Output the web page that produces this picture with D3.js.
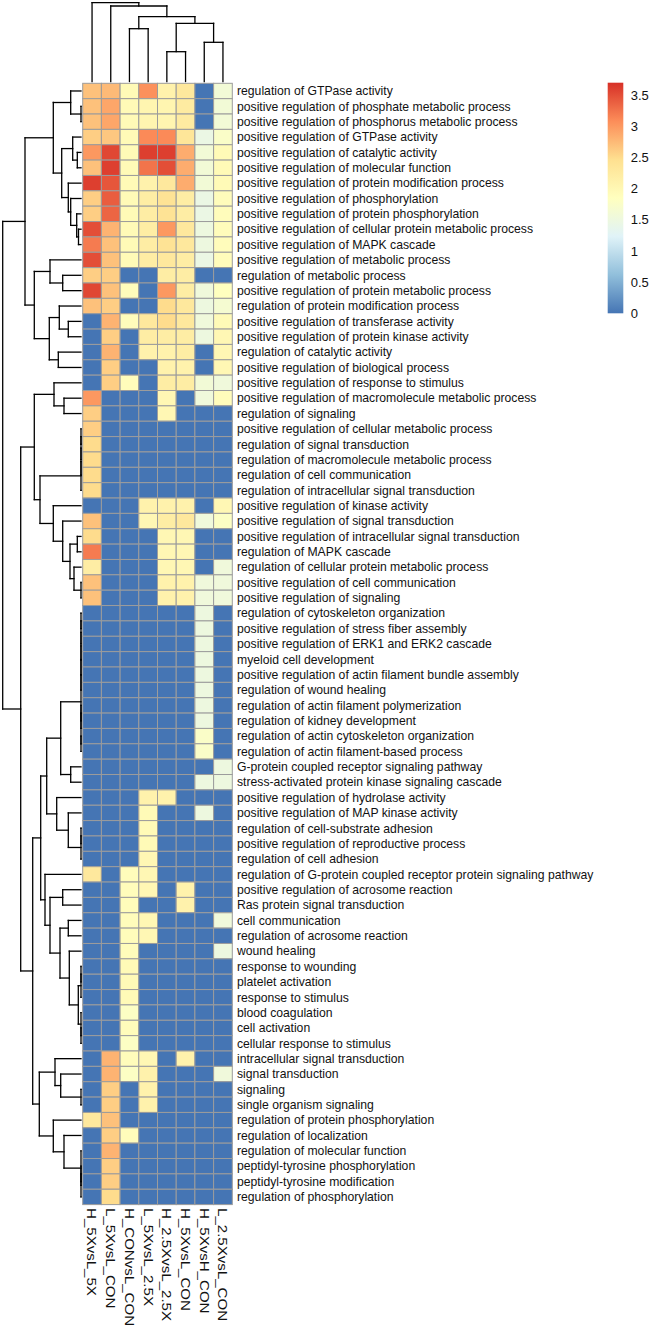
<!DOCTYPE html>
<html>
<head>
<meta charset="utf-8">
<script src="https://cdn.jsdelivr.net/npm/d3@7"></script>
<style>
  body { margin: 0; background: #fff; }
  svg { display: block; }
  text { font-family: "Liberation Sans", Arial, sans-serif; fill: #111; }
</style>
</head>
<body>
<div id="chart"></div>
<script>
// chart size = window size
const width = 654;
const height = 1331;

const colLabels = ["H_5XvsL_5X", "L_5XvsL_CON", "H_CONvsL_CON", "L_5XvsL_2.5X",
  "H_2.5XvsL_2.5X", "H_5XvsL_CON", "H_5XvsH_CON", "L_2.5XvsL_CON"];

const rowLabels = [
  "regulation of GTPase activity",
  "positive regulation of phosphate metabolic process",
  "positive regulation of phosphorus metabolic process",
  "positive regulation of GTPase activity",
  "positive regulation of catalytic activity",
  "positive regulation of molecular function",
  "positive regulation of protein modification process",
  "positive regulation of phosphorylation",
  "positive regulation of protein phosphorylation",
  "positive regulation of cellular protein metabolic process",
  "positive regulation of MAPK cascade",
  "positive regulation of metabolic process",
  "regulation of metabolic process",
  "positive regulation of protein metabolic process",
  "regulation of protein modification process",
  "positive regulation of transferase activity",
  "positive regulation of protein kinase activity",
  "regulation of catalytic activity",
  "positive regulation of biological process",
  "positive regulation of response to stimulus",
  "positive regulation of macromolecule metabolic process",
  "regulation of signaling",
  "positive regulation of cellular metabolic process",
  "regulation of signal transduction",
  "regulation of macromolecule metabolic process",
  "regulation of cell communication",
  "regulation of intracellular signal transduction",
  "positive regulation of kinase activity",
  "positive regulation of signal transduction",
  "positive regulation of intracellular signal transduction",
  "regulation of MAPK cascade",
  "regulation of cellular protein metabolic process",
  "positive regulation of cell communication",
  "positive regulation of signaling",
  "regulation of cytoskeleton organization",
  "positive regulation of stress fiber assembly",
  "positive regulation of ERK1 and ERK2 cascade",
  "myeloid cell development",
  "positive regulation of actin filament bundle assembly",
  "regulation of wound healing",
  "regulation of actin filament polymerization",
  "regulation of kidney development",
  "regulation of actin cytoskeleton organization",
  "regulation of actin filament-based process",
  "G-protein coupled receptor signaling pathway",
  "stress-activated protein kinase signaling cascade",
  "positive regulation of hydrolase activity",
  "positive regulation of MAP kinase activity",
  "regulation of cell-substrate adhesion",
  "positive regulation of reproductive process",
  "regulation of cell adhesion",
  "regulation of G-protein coupled receptor protein signaling pathway",
  "positive regulation of acrosome reaction",
  "Ras protein signal transduction",
  "cell communication",
  "regulation of acrosome reaction",
  "wound healing",
  "response to wounding",
  "platelet activation",
  "response to stimulus",
  "blood coagulation",
  "cell activation",
  "cellular response to stimulus",
  "intracellular signal transduction",
  "signal transduction",
  "signaling",
  "single organism signaling",
  "regulation of protein phosphorylation",
  "regulation of localization",
  "regulation of molecular function",
  "peptidyl-tyrosine phosphorylation",
  "peptidyl-tyrosine modification",
  "regulation of phosphorylation"
];

// one row per term, one value per column
const values = [
  [2.7, 2.75, 1.95, 3.05, 2.1, 2.3, 0, 1.6],
  [2.7, 2.9, 1.95, 2.05, 2.05, 2.25, 0, 1.6],
  [2.7, 2.9, 1.95, 2.05, 2.05, 2.25, 0, 1.6],
  [2.6, 2.65, 1.95, 3.1, 3.1, 2.35, 1.45, 1.75],
  [3.0, 3.55, 1.95, 3.6, 3.6, 2.85, 1.6, 1.95],
  [2.7, 3.6, 1.95, 3.25, 3.5, 2.85, 1.6, 1.95],
  [3.6, 3.45, 1.95, 2.1, 2.3, 2.85, 1.6, 1.95],
  [2.6, 3.4, 1.95, 2.2, 2.4, 2.2, 1.45, 1.9],
  [2.6, 3.35, 1.95, 2.2, 2.4, 2.2, 1.45, 1.9],
  [3.5, 2.8, 1.95, 2.2, 3.0, 2.3, 1.5, 1.9],
  [3.2, 2.7, 1.95, 2.2, 2.4, 2.3, 1.5, 1.9],
  [3.5, 2.7, 1.95, 2.2, 2.3, 2.2, 1.45, 1.9],
  [2.6, 2.6, 0, 0, 2.2, 2.2, 0, 0],
  [3.55, 2.7, 1.9, 0, 3.0, 2.2, 1.55, 1.85],
  [2.7, 2.6, 0, 0, 2.5, 2.3, 1.5, 1.65],
  [0, 2.8, 1.9, 2.3, 2.5, 2.3, 1.55, 1.95],
  [0, 2.6, 0, 2.2, 2.2, 2.2, 1.5, 2.0],
  [0, 2.8, 0, 2.1, 2.1, 2.2, 0, 2.0],
  [0, 2.6, 0, 0, 2.1, 2.1, 0, 2.0],
  [0, 2.6, 1.9, 0, 2.2, 2.2, 1.6, 1.55],
  [3.0, 0, 0, 0, 2.0, 0, 1.55, 1.9],
  [2.6, 0, 0, 0, 2.0, 0, 0, 0],
  [2.6, 0, 0, 0, 0, 0, 0, 0],
  [2.5, 0, 0, 0, 0, 0, 0, 0],
  [2.5, 0, 0, 0, 0, 0, 0, 0],
  [2.5, 0, 0, 0, 0, 0, 0, 0],
  [2.5, 0, 0, 0, 0, 0, 0, 0],
  [0, 0, 0, 2.1, 2.1, 2.1, 0, 2.0],
  [2.7, 0, 0, 2.0, 2.2, 2.3, 1.55, 1.8],
  [2.5, 0, 0, 0, 2.0, 2.0, 0, 0],
  [3.2, 0, 0, 0, 2.0, 2.0, 0, 0],
  [2.2, 0, 0, 0, 2.0, 2.0, 0, 1.55],
  [2.7, 0, 0, 0, 2.1, 2.1, 1.55, 1.55],
  [2.7, 0, 0, 0, 2.1, 2.1, 1.55, 1.55],
  [0, 0, 0, 0, 0, 0, 1.5, 0],
  [0, 0, 0, 0, 0, 0, 1.5, 0],
  [0, 0, 0, 0, 0, 0, 1.5, 0],
  [0, 0, 0, 0, 0, 0, 1.5, 0],
  [0, 0, 0, 0, 0, 0, 1.5, 0],
  [0, 0, 0, 0, 0, 0, 1.5, 0],
  [0, 0, 0, 0, 0, 0, 1.5, 0],
  [0, 0, 0, 0, 0, 0, 1.5, 0],
  [0, 0, 0, 0, 0, 0, 1.75, 0],
  [0, 0, 0, 0, 0, 0, 1.75, 0],
  [0, 0, 0, 0, 0, 0, 0, 1.5],
  [0, 0, 0, 0, 0, 0, 1.5, 1.5],
  [0, 0, 0, 2.1, 2.1, 0, 0, 0],
  [0, 0, 0, 1.95, 0, 0, 1.5, 0],
  [0, 0, 0, 1.95, 0, 0, 0, 0],
  [0, 0, 0, 1.95, 0, 0, 0, 0],
  [0, 0, 0, 2.0, 0, 0, 0, 0],
  [2.3, 0, 1.9, 2.0, 0, 0, 0, 0],
  [0, 0, 1.9, 2.0, 0, 2.1, 0, 0],
  [0, 0, 1.9, 0, 0, 2.1, 0, 0],
  [0, 0, 1.9, 2.0, 0, 0, 0, 1.55],
  [0, 0, 1.9, 2.0, 0, 0, 0, 0],
  [0, 0, 1.9, 0, 0, 0, 0, 1.5],
  [0, 0, 1.95, 0, 0, 0, 0, 0],
  [0, 0, 1.95, 0, 0, 0, 0, 0],
  [0, 0, 1.95, 0, 0, 0, 0, 0],
  [0, 0, 1.8, 0, 0, 0, 0, 0],
  [0, 0, 1.9, 0, 0, 0, 0, 0],
  [0, 0, 1.8, 0, 0, 0, 0, 0],
  [0, 2.8, 1.9, 2.0, 0, 2.1, 0, 0],
  [0, 2.8, 1.8, 2.1, 0, 0, 0, 1.55],
  [0, 2.6, 0, 2.1, 0, 0, 0, 0],
  [0, 2.6, 0, 2.1, 0, 0, 0, 0],
  [2.3, 2.7, 0, 0, 0, 0, 0, 0],
  [0, 2.6, 1.9, 0, 0, 0, 0, 0],
  [0, 2.8, 0, 0, 0, 0, 0, 0],
  [0, 2.6, 0, 0, 0, 0, 0, 0],
  [0, 2.6, 0, 0, 0, 0, 0, 0],
  [0, 2.5, 0, 0, 0, 0, 0, 0]
];

// dendrograms: leaf = row/column number (1-based), node = [left, right, merge height]
const treeA = [1, [2, 3, 0], 10.3];
const treeC = [[4, [5, 6, 3.7], 8.3], [7, [8, [9, [10, 11, 2.5], 4.3], 10.3], 12.7], 19.3];
const treeF = [[12, [13, 14, 18.3], 31], [[15, [16, 17, 12.7], 21.7], [18, 19, 22.7], 31.7], 46.7];
const treeL = [[20, [21, 22, 17], 27],
  [[[[[23, 24, 0], 25, 0], 26, 0], 27, 0],
   [28, [29, [[30, 31, 3.7], [32, [33, 34, 0], 7], 11], 18.3], 27.7], 41], 46.7];
const block35 = [[[[[[35, 36, 0], 37, 0], 38, 0], 39, 0], 40, 0], [[41, 42, 0], [43, 44, 0], 0], 0];
const treeQ = [[block35, [45, 46, 10.3], 20.3], [47, [48, [[49, 50, 0], 51, 0], 12.7], 24.3], 34.3];
const treeR = [52, [[53, 54, 18.3], [[55, 56, 12.7], [57, [[[58, 59, 0], 60, 0], [61, [62, 63, 0], 0], 2.7], 11.7], 21], 31], 36];
const treeM2 = [[64, [65, [66, 67, 0], 20.3], 26], [68, [69, [70, [[71, 72, 0], 73, 0], 0], 17], 27.7], 41.7];
const rowTree = [
  [[treeA, treeC, 27.7], treeF, 56],
  [treeL, [[treeQ, treeR, 40.3], treeM2, 48.3], 60.3],
  78.3];

const colTree = [1, [2, [[3, 4, 52.8], [[5, 6, 29.8], [7, 8, 39.2], 58.2], 64.8], 75.5], 78.8];

const legendTicks = [0, 0.5, 1, 1.5, 2, 2.5, 3, 3.5];
const colorStops = ["#4575B4", "#91BFDB", "#E0F3F8", "#FFFFBF", "#FEE090", "#FC8D59", "#D73027"];
const valueMax = 3.7;

const svg = d3.select("#chart").append("svg")
  .attr("width", width).attr("height", height);

const x = d3.scaleBand().domain(d3.range(colLabels.length)).range([82.7, 232.3]);
const y = d3.scaleBand().domain(d3.range(rowLabels.length)).range([83.3, 1204.6]);

const color = d3.scaleLinear()
  .domain(colorStops.map((c, i) => i * valueMax / (colorStops.length - 1)))
  .range(colorStops)
  .interpolate(d3.interpolateRgb);

// cells
const cells = [];
values.forEach((row, r) => row.forEach((v, c) => cells.push({r, c, v})));

svg.append("g").selectAll("rect")
  .data(cells)
  .join("rect")
    .attr("x", d => x(d.c))
    .attr("y", d => y(d.r))
    .attr("width", x.bandwidth())
    .attr("height", y.bandwidth())
    .attr("fill", d => color(d.v))
    .attr("stroke", "#9c9c9c")
    .attr("stroke-width", 1);

// row labels
svg.append("g").selectAll("text")
  .data(rowLabels)
  .join("text")
    .attr("x", 237)
    .attr("y", (d, i) => y(i) + y.bandwidth() / 2)
    .attr("dy", "0.35em")
    .attr("font-size", "12.2px")
    .text(d => d);

// column labels, rotated
svg.append("g").selectAll("text")
  .data(colLabels)
  .join("text")
    .attr("transform", (d, i) => `translate(${x(i) + x.bandwidth() / 2},1208) rotate(90) scale(1.16,1)`)
    .attr("dy", "0.35em")
    .attr("font-size", "13px")
    .text(d => d);

// dendrogram helpers
function layout(node, pos) {
  if (typeof node === "number") return {h: 0, p: pos(node - 1)};
  const a = layout(node[0], pos), b = layout(node[1], pos);
  return {h: node[2], p: (a.p + b.p) / 2, kids: [a, b]};
}

function segments(n, out) {
  if (!n.kids) return out;
  const [a, b] = n.kids;
  out.push({h1: n.h, p1: a.p, h2: n.h, p2: b.p});
  out.push({h1: n.h, p1: a.p, h2: a.h, p2: a.p});
  out.push({h1: n.h, p1: b.p, h2: b.h, p2: b.p});
  segments(a, out);
  segments(b, out);
  return out;
}

// row dendrogram (left)
const rowRoot = layout(rowTree, i => y(i) + y.bandwidth() / 2);
const hx = d3.scaleLinear().domain([0, rowRoot.h]).range([81, 2.7]);
svg.append("g")
  .attr("stroke", "#000").attr("stroke-width", 1.3).attr("stroke-linecap", "square")
  .selectAll("line")
  .data(segments(rowRoot, []))
  .join("line")
    .attr("x1", d => hx(d.h1)).attr("y1", d => d.p1)
    .attr("x2", d => hx(d.h2)).attr("y2", d => d.p2);

// column dendrogram (top)
const colRoot = layout(colTree, i => x(i) + x.bandwidth() / 2);
const hy = d3.scaleLinear().domain([0, colRoot.h]).range([81.5, 2.7]);
svg.append("g")
  .attr("stroke", "#000").attr("stroke-width", 1.3).attr("stroke-linecap", "square")
  .selectAll("line")
  .data(segments(colRoot, []))
  .join("line")
    .attr("x1", d => d.p1).attr("y1", d => hy(d.h1))
    .attr("x2", d => d.p2).attr("y2", d => hy(d.h2));

// colour legend
const ly = d3.scaleLinear().domain([0, valueMax]).range([313.3, 82.7]);
const grad = svg.append("defs").append("linearGradient")
  .attr("id", "legendGrad")
  .attr("x1", 0).attr("y1", 1).attr("x2", 0).attr("y2", 0);
grad.selectAll("stop")
  .data(colorStops)
  .join("stop")
    .attr("offset", (d, i) => i / (colorStops.length - 1))
    .attr("stop-color", d => d);

svg.append("rect")
  .attr("x", 607.7).attr("y", ly(valueMax))
  .attr("width", 15.6).attr("height", ly(0) - ly(valueMax))
  .attr("fill", "url(#legendGrad)");

svg.append("g").selectAll("text")
  .data(legendTicks)
  .join("text")
    .attr("x", 630.7)
    .attr("y", d => ly(d))
    .attr("dy", "0.35em")
    .attr("font-size", "13px")
    .text(d => d);
</script>
</body>
</html>
